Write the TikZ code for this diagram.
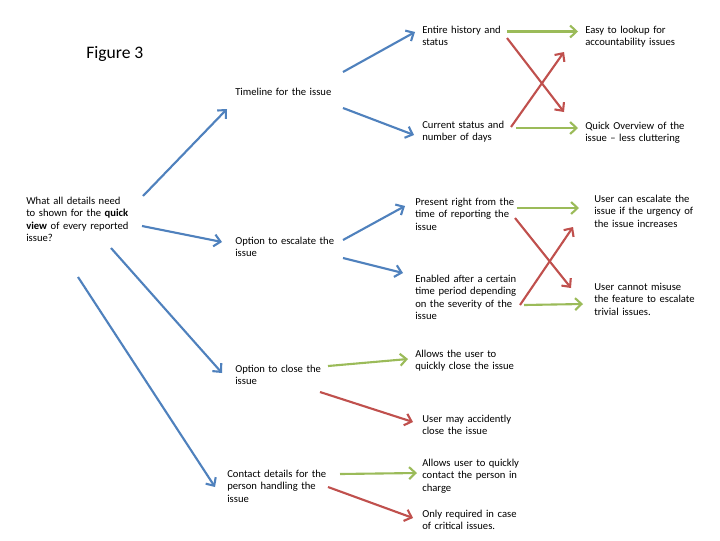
\documentclass[tikz,border=0pt]{standalone}
\usepackage{fontspec}
\setmainfont{Carlito}
\usepackage{tikz}
\usetikzlibrary{calc, arrows.meta}
\definecolor{myblue}{RGB}{79, 129, 189}
\definecolor{mygreen}{RGB}{155, 187, 89}
\definecolor{myred}{RGB}{192, 80, 77}
\tikzset{>={Straight Barb[length=4.5pt, width=8.5pt]}}
\tikzset{txt/.style = {anchor = base west, inner sep = 0, align = left, text width = 3cm, font = \fontsize{7.55}{9}\selectfont}}
\tikzset{lnk/.style = {->, line width = 1.5pt}}

\begin{document}
\begin{tikzpicture}[x = 0.025cm, y = -0.025cm]

\useasboundingbox[fill = white] (0, 0) rectangle (720, 540); % page size

\node[anchor = base west, inner sep = 0, font = \fontsize{12.5}{15}\selectfont] (fig) at (86, 58) {Figure 3};

% first column
\node[txt] (root) at (26, 204) {What all details need\\to shown for the \textbf{quick}\\\textbf{view} of every reported\\issue?};

% second column
\node[txt] (timeline) at (235, 95) {Timeline for the issue};
\node[txt] (escalate) at (235, 244) {Option to escalate the\\issue};
\node[txt] (close) at (235, 372) {Option to close the\\issue};
\node[txt] (contact) at (227, 477) {Contact details for the\\person handling the\\issue};

% third column
\node[txt] (entire) at (422, 33) {Entire history and\\status};
\node[txt] (current) at (422, 128) {Current status and\\number of days};
\node[txt] (present) at (415, 205) {Present right from the\\time of reporting the\\issue};
\node[txt] (enabled) at (415, 282) {Enabled after a certain\\time period depending\\on the severity of the\\issue};
\node[txt] (allowclose) at (415, 357) {Allows the user to\\quickly close the issue};
\node[txt] (accident) at (422, 422) {User may accidently\\close the issue};
\node[txt] (allowcontact) at (422, 466) {Allows user to quickly\\contact the person in\\charge};
\node[txt] (onlyreq) at (422, 517) {Only required in case\\of critical issues.};

% fourth column
\node[txt] (easy) at (585, 33) {Easy to lookup for\\accountability issues};
\node[txt] (quick) at (585, 129) {Quick Overview of the\\issue -- less cluttering};
\node[txt] (usercan) at (594, 202) {User can escalate the\\issue if the urgency of\\the issue increases};
\node[txt] (usercannot) at (594, 290) {User cannot misuse\\the feature to escalate\\trivial issues.};

% blue links
\begin{scope}[myblue]
\draw[lnk] ($(root.base west)+(117,-8)$) -- ($(timeline.base west)+(-8,14)$);
\draw[lnk] ($(root.base west)+(116,22)$) -- ($(escalate.base west)+(-13,-2)$);
\draw[lnk] ($(root.base west)+(85,44)$) -- ($(close.base west)+(-13,1)$);
\draw[lnk] ($(root.base west)+(52,73)$) -- ($(contact.base west)+(-12,10)$);
\draw[lnk] ($(timeline.base west)+(108,-23)$) -- ($(entire.base west)+(-7,-1)$);
\draw[lnk] ($(timeline.base west)+(108,13)$) -- ($(current.base west)+(-8,7)$);
\draw[lnk] ($(escalate.base west)+(108,-4)$) -- ($(present.base west)+(-10,1)$);
\draw[lnk] ($(escalate.base west)+(108,14)$) -- ($(enabled.base west)+(-12,-9)$);
\end{scope}

% green links
\begin{scope}[mygreen]
\draw[lnk] ($(entire.base west)+(85,-1.5)$) -- ($(easy.base west)+(-7,-1.5)$);
\draw[lnk] ($(current.base west)+(94,0)$) -- ($(quick.base west)+(-7,-1)$);
\draw[lnk] ($(present.base west)+(102,3)$) -- ($(usercan.base west)+(-15,6)$);
\draw[lnk] ($(enabled.base west)+(109,23)$) -- ($(usercannot.base west)+(-11,14)$);
\draw[lnk] ($(close.base west)+(93,-6)$) -- ($(allowclose.base west)+(-7,2)$);
\draw[lnk] ($(contact.base west)+(113,-3)$) -- ($(allowcontact.base west)+(-5,7)$);
\end{scope}

% red links
\begin{scope}[myred]
\draw[lnk] ($(entire.base west)+(85,5)$) -- ($(quick.base west)+(-21,-17)$);
\draw[lnk] ($(current.base west)+(89,-1)$) -- ($(easy.base west)+(-21,19)$);
\draw[lnk] ($(present.base west)+(100,13)$) -- ($(usercannot.base west)+(-23,-2)$);
\draw[lnk] ($(enabled.base west)+(105,23)$) -- ($(usercan.base west)+(-21,25)$);
\draw[lnk] ($(close.base west)+(85,20)$) -- ($(accident.base west)+(-9,0)$);
\draw[lnk] ($(contact.base west)+(101,10)$) -- ($(onlyreq.base west)+(-9,1)$);
\end{scope}

\end{tikzpicture}
\end{document}
